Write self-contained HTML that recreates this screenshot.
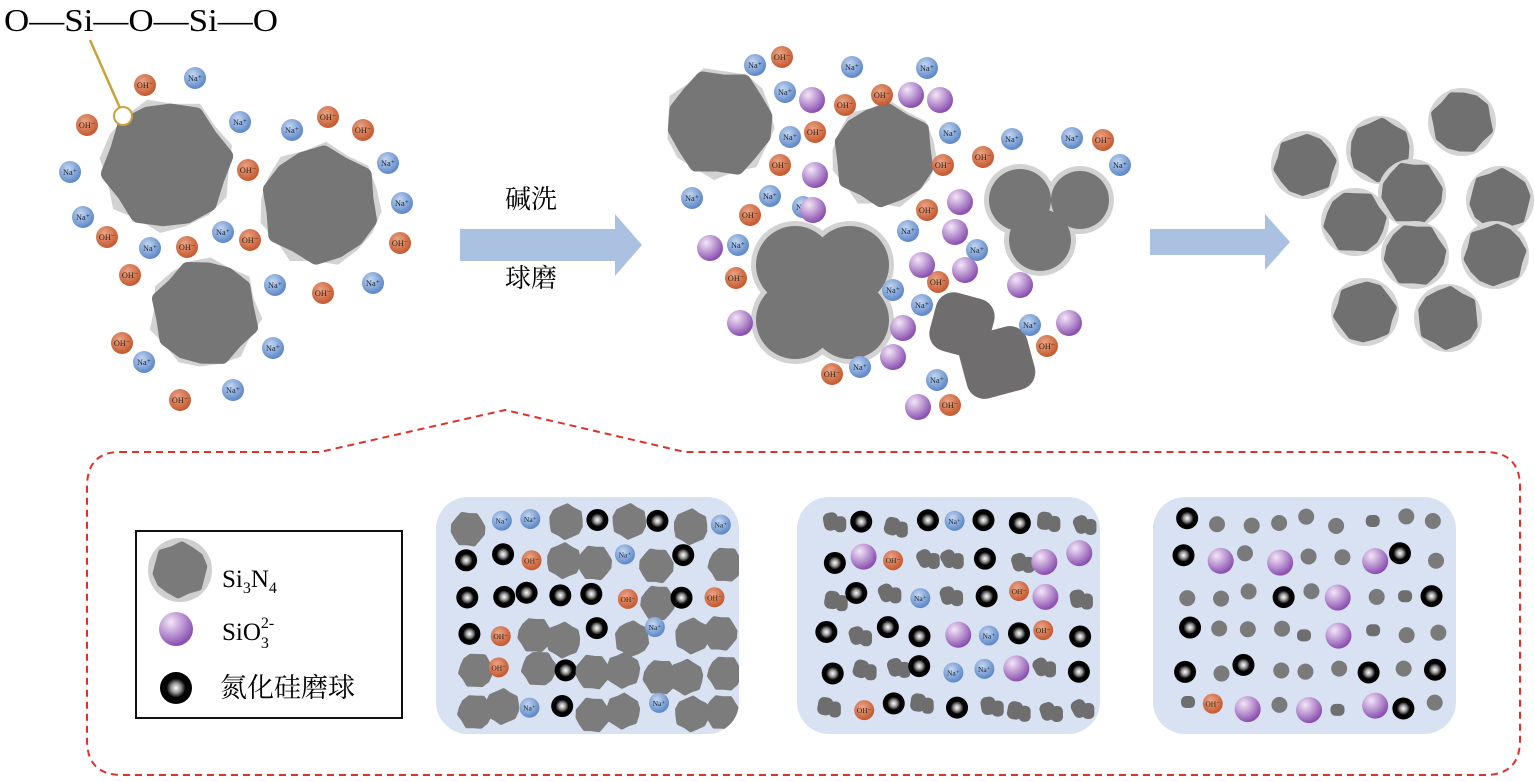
<!DOCTYPE html><html><head><meta charset="utf-8"><style>
body{margin:0;background:#fff}svg{display:block}
text{font-family:"Liberation Serif","Noto Serif CJK SC",serif}
</style></head><body>
<svg id="s" width="1535" height="781" viewBox="0 0 1535 781" xmlns="http://www.w3.org/2000/svg">
<defs>
<radialGradient id="gn" cx="40%" cy="35%" r="65%"><stop offset="0" stop-color="#c5d7f0"/><stop offset="1" stop-color="#5b86c8"/></radialGradient>
<radialGradient id="go" cx="40%" cy="35%" r="65%"><stop offset="0" stop-color="#eaa587"/><stop offset="1" stop-color="#c5582e"/></radialGradient>
<radialGradient id="gp" cx="35%" cy="30%" r="70%"><stop offset="0" stop-color="#f3e6f8"/><stop offset="1" stop-color="#8a4fb0"/></radialGradient>
<radialGradient id="gb" cx="50%" cy="50%" r="50%"><stop offset="0" stop-color="#fff"/><stop offset=".3" stop-color="#999"/><stop offset=".6" stop-color="#000"/></radialGradient>
<clipPath id="c1"><rect x="436" y="497" width="303" height="237" rx="32"/></clipPath>
<clipPath id="c2"><rect x="797" y="497" width="303" height="237" rx="32"/></clipPath>
<clipPath id="c3"><rect x="1153" y="497" width="303" height="237" rx="32"/></clipPath>
</defs>
<rect x="136" y="531" width="266" height="187" fill="#fff" stroke="#111" stroke-width="2"/>
<g id="g"></g>
<text x="4" y="31" font-size="32" textLength="274" lengthAdjust="spacingAndGlyphs">O—Si—O—Si—O</text>
<line x1="90" y1="40" x2="120" y2="108" stroke="#c9a23a" stroke-width="2.5"/>
<circle cx="123" cy="116" r="9" fill="#fff" stroke="#c9a23a" stroke-width="2"/>
<path d="M460 229 H615 V214 L642 245 L615 276 V261 H460Z" fill="#aac1e2"/>
<path d="M1150 229 H1265 V214 L1290 242 L1265 270 V255 H1150Z" fill="#aac1e2"/>
<text x="505" y="208" font-size="26" font-family="Noto Serif CJK SC,serif">碱洗</text>
<text x="505" y="287" font-size="26" font-family="Noto Serif CJK SC,serif">球磨</text>
<path d="M120 452 H320 L505 410 L685 452 H1485 Q1520 452 1520 487 V740 Q1520 775 1485 775 H122 Q87 775 87 740 V487 Q87 452 120 452Z" fill="none" stroke="#e0302a" stroke-width="2" stroke-dasharray="7,5"/>
<text x="222" y="587" font-size="25">Si<tspan font-size="16" dy="6">3</tspan><tspan dy="-6">N</tspan><tspan font-size="16" dy="6">4</tspan></text>
<text x="222" y="640" font-size="25">SiO<tspan font-size="16" dy="8">3</tspan><tspan font-size="16" dx="-8" dy="-20">2-</tspan></text>
<text x="220" y="697" font-size="27" font-family="Noto Serif CJK SC,serif">氮化硅磨球</text>
</svg>
<script>
var g=document.getElementById('g'),h='';
function pts(x,y,r,n,ph,amp){var p='';for(var i=0;i<n;i++){var a=i/n*6.283+ph,rr=r*(1-amp+amp*Math.sin(i*2.7+x*0.1));p+=(i?'L':'M')+(x+rr*Math.cos(a)).toFixed(1)+' '+(y+rr*Math.sin(a)).toFixed(1);}return p+'Z';}
function blob(x,y,r,fill,shell){var s='';if(shell)s='<path d="'+pts(x,y,r*1.2,16,0.1,0.06)+'" fill="#d2d2d2"/>';return s+'<path d="'+pts(x,y,r,14,0.3,0.07)+'" fill="'+fill+'" stroke="'+fill+'" stroke-width="'+(r*0.3)+'" stroke-linejoin="round"/>';}
function ion(x,y,t,r){r=r||11;if(t=='n')return '<circle cx="'+x+'" cy="'+y+'" r="'+r+'" fill="url(#gn)"/><text x="'+x+'" y="'+(y+3)+'" font-size="'+(r*0.75)+'" text-anchor="middle" fill="#123">Na⁺</text>';
if(t=='o')return '<circle cx="'+x+'" cy="'+y+'" r="'+r+'" fill="url(#go)"/><text x="'+x+'" y="'+(y+3)+'" font-size="'+(r*0.75)+'" text-anchor="middle" fill="#321">OH⁻</text>';
if(t=='p')return '<circle cx="'+x+'" cy="'+y+'" r="'+r+'" fill="url(#gp)"/>';
return '<circle cx="'+x+'" cy="'+y+'" r="'+r+'" fill="url(#gb)"/>';}
h+=blob(167,165,58,'#767676',1)+blob(320,205,53,'#767676',1)+blob(205,313,48,'#767676',1);
[[145,85],[87,125],[248,170],[107,237],[130,275],[187,247],[250,240],[328,117],[363,130],[400,243],[323,293],[122,343],[180,400]].forEach(function(a){h+=ion(a[0],a[1],'o')});
[[195,78],[240,122],[70,172],[83,217],[150,248],[223,232],[292,130],[388,163],[402,203],[373,283],[275,285],[273,348],[144,362],[233,390]].forEach(function(a){h+=ion(a[0],a[1],'n')});
h+=blob(720,123,48,'#767676',1)+blob(884,155,46,'#767676',1);
h+='<g fill="#d2d2d2"><circle cx="1020" cy="200" r="36"/><circle cx="1080" cy="200" r="34"/><circle cx="1040" cy="240" r="36"/><circle cx="795" cy="265" r="44"/><circle cx="850" cy="265" r="44"/><circle cx="795" cy="320" r="44"/><circle cx="850" cy="320" r="44"/></g>';
h+='<g fill="#767676"><circle cx="1020" cy="200" r="31"/><circle cx="1080" cy="200" r="29"/><circle cx="1040" cy="240" r="31"/><circle cx="795" cy="265" r="39"/><circle cx="850" cy="265" r="39"/><circle cx="795" cy="320" r="39"/><circle cx="850" cy="320" r="39"/></g>';
h+='<g fill="#6f6d6d"><rect x="932" y="295" width="60" height="60" rx="18" transform="rotate(15 962 325)"/><rect x="962" y="330" width="70" height="65" rx="18" transform="rotate(-15 997 362)"/></g>';
[[755,65],[785,92],[852,67],[927,68],[790,137],[950,133],[1012,139],[1072,138],[1120,165],[692,198],[770,196],[803,207],[908,231],[977,250],[738,245],[893,290],[922,305],[1030,325],[937,380],[860,367]].forEach(function(a){h+=ion(a[0],a[1],'n')});
[[782,57],[845,105],[882,95],[815,132],[780,165],[750,215],[983,157],[943,165],[927,210],[1103,140],[736,278],[938,282],[1047,346],[832,374],[950,405]].forEach(function(a){h+=ion(a[0],a[1],'o')});
[[812,100],[911,95],[940,100],[815,175],[813,210],[960,202],[955,232],[710,248],[922,265],[1020,285],[740,323],[903,328],[1069,323],[918,407],[893,357],[965,270]].forEach(function(a){h+=ion(a[0],a[1],'p',13)});
[[1305,165],[1380,150],[1462,122],[1412,193],[1500,200],[1355,222],[1415,255],[1495,255],[1365,312],[1448,318]].forEach(function(a){h+='<circle cx="'+a[0]+'" cy="'+a[1]+'" r="34" fill="#d4d4d4"/>'+blob(a[0],a[1],28,'#707070',0)});
h+='<circle cx="180" cy="570" r="32" fill="#cfcfcf"/>'+blob(180,570,25,'#7a7a7a',0)+ion(176,629,'p',17)+ion(176,688,'b',16);
var seed=7;function R(){seed=(seed*16807)%2147483647;return seed/2147483647;}
[[436,'a',1],[797,'b',2],[1153,'c',3]].forEach(function(P){var x0=P[0];h+='<rect x="'+x0+'" y="497" width="303" height="237" rx="32" fill="#d8e2f2"/><g clip-path="url(#c'+P[2]+')">';
for(var i=0;i<9;i++)for(var j=0;j<6;j++){var x=x0+28+i*31+R()*10,y=516+j*37+R()*10;var k=R();
 if(P[1]=='a'){ if(k<0.5)h+=blob(x+4,y+4,16,'#7c7c7c',0); else if(k<0.82)h+=ion(x,y,'b',11); else h+=ion(x,y,k<0.91?'o':'n',10);}
 else if(P[1]=='b'){ if(k<0.45)h+='<rect x="'+(x-9)+'" y="'+(y-8)+'" width="15" height="18" rx="6" fill="#6e6e6e" transform="rotate('+(R()*60-30)+' '+x+' '+y+')"/><rect x="'+(x+2)+'" y="'+(y-4)+'" width="12" height="16" rx="5" fill="#6e6e6e"/>'; else if(k<0.75)h+=ion(x,y,'b',11); else if(k<0.88)h+=ion(x,y,'p',13); else h+=ion(x,y,k<0.94?'o':'n',10);}
 else { if(k<0.5)h+='<circle cx="'+x+'" cy="'+y+'" r="8" fill="#7a7a7a"/>'; else if(k<0.72)h+=ion(x,y,'b',11); else if(k<0.85)h+=ion(x,y,'p',13); else if(k<0.92)h+='<rect x="'+(x-8)+'" y="'+(y-6)+'" width="14" height="12" rx="5" fill="#6e6e6e"/>'; else h+=ion(x,y,k<0.96?'o':'n',10);}
}
h+='</g>';});
g.innerHTML=h;
</script>
</body></html>
